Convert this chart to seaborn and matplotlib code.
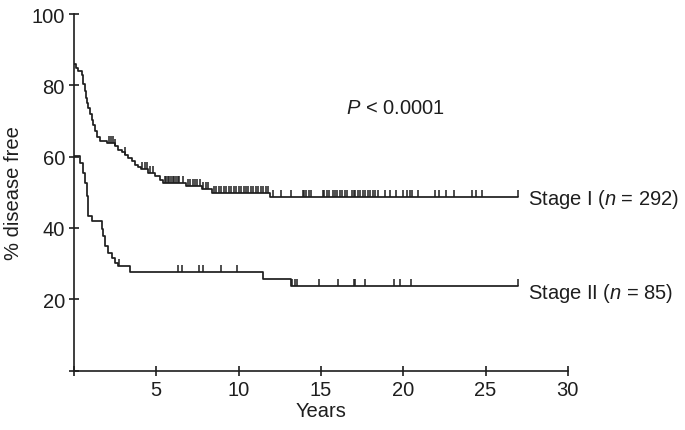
import numpy as np
import pandas as pd
import matplotlib
matplotlib.use("Agg")
import matplotlib.pyplot as plt
import seaborn as sns

# ---- data ----
stage1_times = [0.0, 0.12, 0.26, 0.47, 0.57, 0.65, 0.73, 0.80, 0.87, 0.97, 1.07, 1.17, 1.27, 1.42, 1.58, 1.98,
                2.5, 2.7, 2.9, 3.1, 3.3, 3.5, 3.7, 3.9, 4.1, 4.5, 4.9, 5.2, 5.4, 6.8, 7.8, 8.4, 11.9, 27.0]
stage1_surv = [86.0, 85.0, 84.0, 83.0, 80.5, 78.5, 76.5, 75.0, 73.7, 72.0, 70.4, 68.8, 67.1, 65.5, 64.3, 63.8,
               63.0, 62.0, 61.3, 60.6, 59.6, 58.7, 57.8, 57.0, 56.4, 55.4, 54.5, 53.5, 52.6, 51.7, 51.0, 49.9, 48.7, 48.7]
stage1_censored = [2.1, 2.25, 2.4, 2.5, 3.1, 4.15, 4.3, 4.45, 4.6, 4.8,
                   5.5, 5.6, 5.7, 5.8, 5.9, 6.0, 6.1, 6.2, 6.3, 6.4, 6.6,
                   6.9, 7.05, 7.2, 7.35, 7.5, 7.65, 7.85, 8.0, 8.15,
                   8.5, 8.65, 8.8, 8.95, 9.1, 9.25, 9.4, 9.55, 9.7, 9.85, 10.0, 10.15,
                   10.3, 10.45, 10.6, 10.75, 10.9, 11.05, 11.2, 11.35, 11.5, 11.65, 11.8,
                   12.1, 12.6, 13.2, 13.9, 14.0, 14.1, 14.25, 14.4,
                   15.1, 15.2, 15.35, 15.5, 15.75, 15.85, 16.0, 16.15, 16.3, 16.45, 16.6,
                   16.9, 17.0, 17.1, 17.25, 17.4, 17.55, 17.7, 17.85, 18.0, 18.15, 18.3, 18.45,
                   18.9, 19.2, 19.55, 20.0, 20.25, 20.4, 20.55, 20.9, 21.9, 22.2, 22.6, 23.1,
                   24.2, 24.45, 24.8, 27.0]

stage2_times = [0.0, 0.36, 0.57, 0.67, 0.77, 0.87, 1.07, 1.68, 1.78, 1.88, 2.08, 2.29, 2.49, 2.69, 3.4,
                11.46, 13.2, 27.0]
stage2_surv = [60.1, 58.2, 55.4, 52.6, 48.9, 43.3, 41.9, 39.6, 37.7, 34.9, 33.0, 31.6, 30.2, 29.2, 27.7,
               25.8, 23.8, 23.8]
stage2_censored = [2.75, 6.33, 6.57, 7.59, 7.85, 8.93, 9.92, 13.25, 13.4, 13.55,
                   14.9, 16.05, 17.0, 17.07, 17.7, 19.43, 19.83, 20.5, 27.0]

labels = ["Stage I ($n$ = 292)", "Stage II ($n$ = 85)"]
p_text = "$P$ < 0.0001"
x_ticks = [0, 5, 10, 15, 20, 25, 30]
x_ticklabels = ["", "5", "10", "15", "20", "25", "30"]
y_ticks = [0, 20, 40, 60, 80, 100]
y_ticklabels = ["", "20", "40", "60", "80", "100"]

# ---- style ----
sns.set_style("ticks")
plt.rcParams["font.family"] = ["Liberation Sans", "DejaVu Sans"]
plt.rcParams["mathtext.fontset"] = "custom"
plt.rcParams["mathtext.rm"] = "Liberation Sans"
plt.rcParams["mathtext.it"] = "Liberation Sans:italic"

ink = "#1e1e1e"
fs = 14.5
fig = plt.figure(figsize=(6.85, 4.31), dpi=100)
ax = fig.add_axes([0.108, 0.138, 0.721, 0.827])

df = pd.concat([
    pd.DataFrame({"t": stage1_times, "s": stage1_surv, "g": "I"}),
    pd.DataFrame({"t": stage2_times, "s": stage2_surv, "g": "II"}),
])
sns.lineplot(data=df, x="t", y="s", units="g", estimator=None, sort=False,
             drawstyle="steps-post", color=ink, lw=1.25, ax=ax, legend=False)


def surv_at(times, surv, t):
    idx = np.searchsorted(np.asarray(times), np.asarray(t), side="right") - 1
    return np.asarray(surv)[idx]


for times, surv, cens in [(stage1_times, stage1_surv, stage1_censored),
                          (stage2_times, stage2_surv, stage2_censored)]:
    ys = surv_at(times, surv, cens)
    ax.vlines(cens, ys, ys + 2.0, color=ink, lw=1.1)

ax.set_xlim(0, 30)
ax.set_ylim(0, 100)
ax.set_xticks(x_ticks)
ax.set_xticklabels(x_ticklabels)
ax.set_yticks(y_ticks)
ax.set_yticklabels(y_ticklabels)
ax.tick_params(direction="inout", length=7, width=1.2, colors=ink, labelsize=fs, pad=3)
for sp in ["top", "right"]:
    ax.spines[sp].set_visible(False)
for sp in ["left", "bottom"]:
    ax.spines[sp].set_color(ink)
    ax.spines[sp].set_linewidth(1.2)

ax.set_xlabel("Years", fontsize=fs, color=ink, labelpad=2)
ax.set_ylabel("% disease free", fontsize=fs, color=ink, labelpad=6)

ax.text(27.6, 48.2, labels[0], fontsize=fs, color=ink, va="center", ha="left", clip_on=False)
ax.text(27.6, 21.8, labels[1], fontsize=fs, color=ink, va="center", ha="left", clip_on=False)
ax.text(19.5, 73.8, p_text, fontsize=fs, color=ink, va="center", ha="center")

fig.savefig("out.png", dpi=100)
